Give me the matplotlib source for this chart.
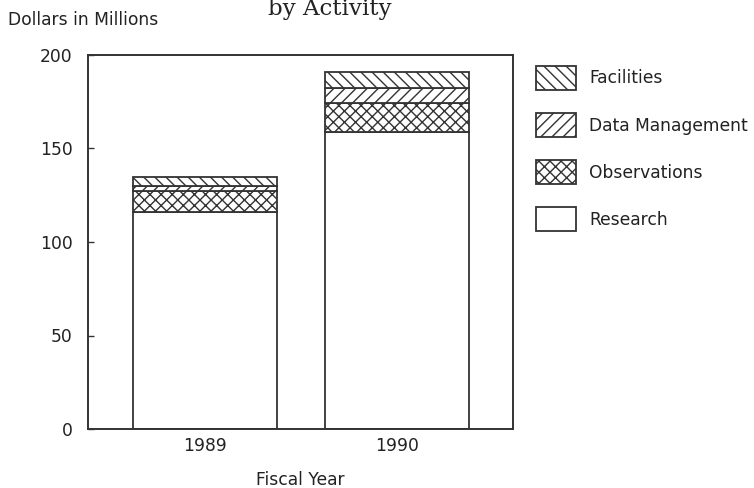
import matplotlib.pyplot as plt
import numpy as np

plt.rcParams['font.family'] = ['DejaVu Sans']
plt.rcParams['hatch.linewidth'] = 1.0

years = ['1989', '1990']
research = [116, 159]
observations = [11.5, 15.5]
data_management = [2.5, 8]
facilities = [4.5, 8.2]

series = [
    ('Research', research, ''),
    ('Observations', observations, 'xxx'),
    ('Data Management', data_management, '///'),
    ('Facilities', facilities, '\\\\\\'),
]

ink = '#333333'
txt = '#222222'
fs = 12.3

fig = plt.figure(figsize=(7.54, 4.88), dpi=100)
ax = fig.add_axes([0.1167, 0.1209, 0.5637, 0.7664])

x = np.arange(len(years))
bottom = np.zeros(len(years))
handles = {}
for name, vals, hatch in series:
    bars = ax.bar(x, vals, width=0.752, bottom=bottom, color='white',
                  edgecolor=ink, linewidth=1.3, hatch=hatch)
    handles[name] = bars
    bottom = bottom + np.array(vals)

ax.set_xlim(-0.611, 1.608)
ax.set_ylim(0, 200)
ax.set_yticks([0, 50, 100, 150, 200])
ax.set_xticks(x)
ax.set_xticklabels(years)
ax.tick_params(axis='y', direction='in', length=4, width=1, color=ink,
               labelsize=fs, pad=11, labelcolor=txt)
ax.tick_params(axis='x', length=0, labelsize=fs, pad=6, labelcolor=txt)
for sp in ax.spines.values():
    sp.set_color(ink)
    sp.set_linewidth(1.4)

ax.set_xlabel('Fiscal Year', fontsize=fs, labelpad=11, color=txt)
fig.text(8 / 754, 1 - 20 / 488, 'Dollars in Millions', fontsize=fs,
         va='center', ha='left', color=txt)
fig.text(330 / 754, 1 - 15 / 488, 'by Activity', fontsize=16.5,
         family='DejaVu Serif', va='baseline', ha='center', color=txt)

order = ['Facilities', 'Data Management', 'Observations', 'Research']
fig.legend([handles[n] for n in order], order, loc='upper left',
           bbox_to_anchor=(536 / 754, 1 - 66 / 488), frameon=False,
           borderpad=0, borderaxespad=0, handlelength=40 * 0.72 / fs,
           handleheight=2.17 * 10 / fs, labelspacing=16.8 / fs,
           handletextpad=9.4 / fs, fontsize=fs, labelcolor=txt)

fig.savefig('out.png', dpi=100)
